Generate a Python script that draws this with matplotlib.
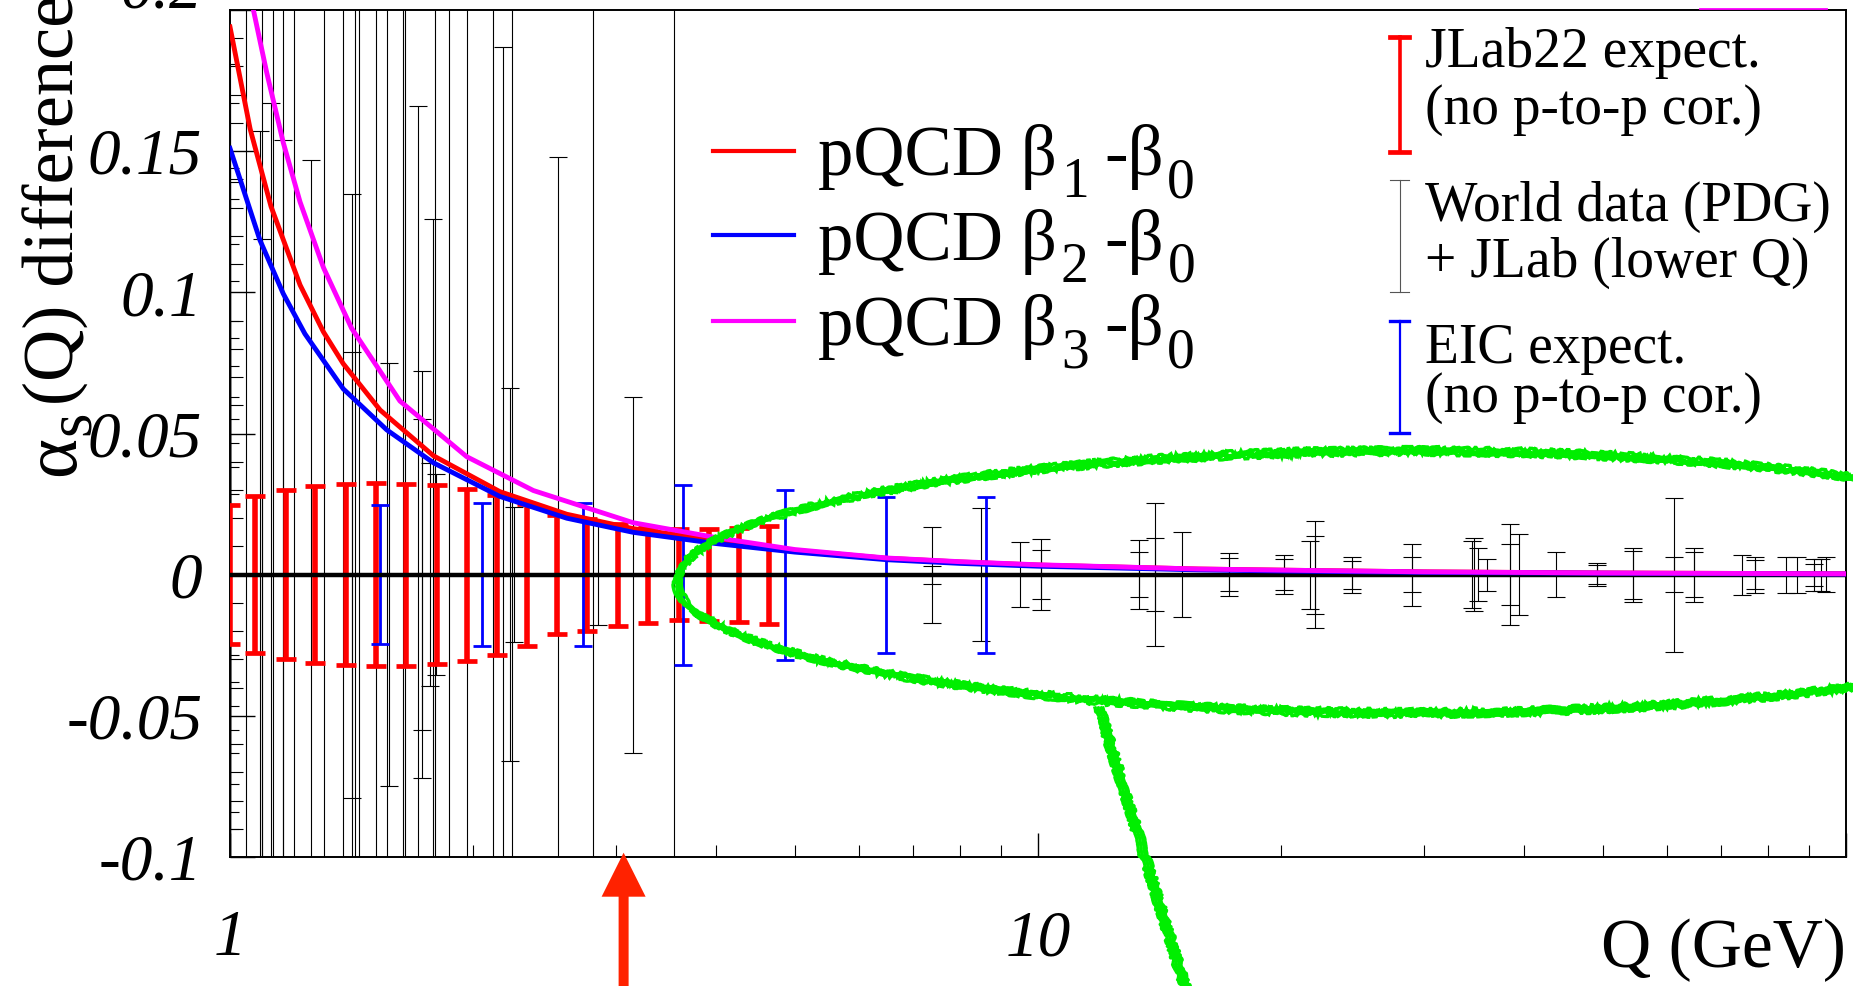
import numpy as np
import matplotlib
matplotlib.use("Agg")
import matplotlib.pyplot as plt
from matplotlib.lines import Line2D
from matplotlib.patches import Ellipse, Polygon
from matplotlib.ticker import LogLocator, MultipleLocator, NullFormatter

W, H = 1853, 986

# pQCD curves: alpha_s difference w.r.t. leading order
Q_B1 = [1.0, 1.059, 1.124, 1.221, 1.305, 1.381, 1.534, 1.786, 2.158, 2.611,
        3.155, 4.0, 5.0, 6.5, 8.0, 10, 15.8, 20, 30, 50, 100]
DIFF_B1 = [0.194, 0.1579, 0.1304, 0.1026, 0.0860, 0.0747, 0.0583, 0.0421, 0.0294, 0.0214,
           0.0163, 0.0121, 0.0086, 0.0058, 0.0045, 0.0034, 0.0020, 0.0016, 0.0010, 0.0006, 0.0003]

Q_B2 = [1.0, 1.089, 1.164, 1.238, 1.381, 1.563, 1.786, 2.158, 2.611, 3.155,
        4.0, 5.0, 6.5, 8.0, 10, 15.8, 20, 30, 50, 100]
DIFF_B2 = [0.151, 0.1185, 0.0995, 0.0853, 0.0658, 0.0513, 0.0396, 0.0277, 0.0200, 0.0150,
           0.0110, 0.0080, 0.0053, 0.0040, 0.0030, 0.0017, 0.0013, 0.0008, 0.0005, 0.0002]

Q_B3 = [1.05, 1.069, 1.110, 1.164, 1.221, 1.305, 1.414, 1.623, 1.963, 2.374,
        3.155, 4.0, 5.0, 6.5, 8.0, 10, 15.8, 20, 30, 50, 100]
DIFF_B3 = [0.212, 0.2, 0.178, 0.153, 0.132, 0.1088, 0.0873, 0.0615, 0.0418, 0.0298,
           0.0184, 0.0131, 0.0089, 0.0059, 0.0046, 0.0035, 0.0020, 0.0016, 0.0010, 0.0006, 0.0003]

# JLab22 expected uncertainties (centred on zero)
JLAB_Q = [1.0, 1.074, 1.173, 1.274, 1.390, 1.516, 1.651, 1.802, 1.963, 2.138,
          2.333, 2.541, 2.768, 3.022, 3.292, 3.596, 3.918, 4.27, 4.65]
JLAB_ERR = [0.0245, 0.0278, 0.030, 0.0314, 0.032, 0.0325, 0.0322, 0.0316, 0.0305, 0.0283,
            0.0251, 0.021, 0.0198, 0.0181, 0.017, 0.0162, 0.0163, 0.0166, 0.0173]

# EIC expected uncertainties
EIC_Q = [1.533, 2.048, 2.736, 3.64, 4.86, 6.49, 8.63]
EIC_ERR = [0.0246, 0.0253, 0.0254, 0.0319, 0.0301, 0.0276, 0.0276]

# World data (PDG) + JLab, shown as uncertainty around zero
WORLD_Q = [1.0] * 15 + [
    1.0466, 1.089, 1.094, 1.094, 1.124, 1.129, 1.164, 1.164, 1.200, 1.259,
    1.308, 1.381, 1.414, 1.414, 1.428, 1.446, 1.518, 1.563, 1.575, 1.638,
    1.645, 1.707, 1.727, 1.73, 1.77, 1.785, 1.794, 1.797, 1.868, 1.963,
    2.113, 2.175, 2.221, 2.236, 2.244, 2.548, 2.81, 2.857, 3.155, 3.545,
    7.39, 7.39, 8.50, 9.50, 10.09, 10.09, 13.32, 13.32, 13.97, 13.97,
    15.08, 17.23, 17.23, 20.14, 20.14, 21.7, 22.0, 22.0, 24.5, 24.5,
    29.0, 29.0, 34.4, 34.6, 35.0, 35.9, 38.4, 38.4, 39.4, 43.8,
    49.2, 49.2, 54.5, 54.5, 61.3, 61.3, 64.8, 64.8, 74.3, 77.2,
    77.2, 84.3, 87.0, 91.4, 91.4, 93.0, 94.4]
WORLD_ERR = [0.181, 0.167, 0.144, 0.139, 0.133, 0.117, 0.104, 0.090, 0.084, 0.074,
             0.063, 0.055, 0.0465, 0.038, 0.0284] + [
    0.3, 0.157, 0.3, 0.119, 0.167, 0.3, 0.154, 0.3, 0.3, 0.147,
    0.3, 0.3, 0.135, 0.079, 0.3, 0.3, 0.3, 0.3, 0.075, 0.3,
    0.3, 0.166, 0.072, 0.055, 0.0395, 0.126, 0.3, 0.0356, 0.3, 0.3,
    0.3, 0.187, 0.066, 0.3, 0.024, 0.148, 0.3, 0.018, 0.063, 0.3,
    0.017, 0.0032, 0.0236, 0.0116, 0.0125, 0.0087, 0.0123, 0.008, 0.0253, 0.0129,
    0.015, 0.0077, 0.0058, 0.0069, 0.0055, 0.012, 0.019, 0.0138, 0.0064, 0.0049,
    0.011, 0.0061, 0.0118, 0.0129, 0.0095, 0.0057, 0.018, 0.0108, 0.0143, 0.0079,
    0.0041, 0.0033, 0.0096, 0.0085, 0.0273, 0.0063, 0.0096, 0.0079, 0.0071, 0.0064,
    0.0052, 0.0064, 0.0064, 0.0057, 0.0039, 0.0057, 0.0062]

Y_TICKS = [-0.1, -0.05, 0, 0.05, 0.1, 0.15, 0.2]
Y_TICK_LABELS = ["-0.1", "-0.05", "0", "0.05", "0.1", "0.15", ""]
X_TICKS = [1, 10, 100]
X_TICK_LABELS = ["1", "10", ""]

ARROW_Q = 3.07

plt.rcParams["font.family"] = ["Liberation Serif", "DejaVu Serif"]


def P(x, y):
    """pixel position (from top-left) -> figure fraction"""
    return x / W, 1 - y / H


def chain_text(x, y, parts, vertical=False):
    """Draw text pieces one after another; parts = (text, size, baseline drop px, gap px)."""
    renderer = fig.canvas.get_renderer()
    pos = 0.0
    for s, size, drop, gap in parts:
        pos += gap
        if vertical:
            t = fig.text(*P(x + drop, y - pos), s, fontsize=size, rotation=90,
                         rotation_mode="anchor", ha="left", va="baseline")
            pos += t.get_window_extent(renderer).height
        else:
            t = fig.text(*P(x + pos, y + drop), s, fontsize=size, ha="left", va="baseline")
            pos += t.get_window_extent(renderer).width


fig = plt.figure(figsize=(W / 100, H / 100), dpi=100)
ax = fig.add_axes([230 / W, 1 - 857 / H, 1616 / W, 847 / H])

ax.errorbar(WORLD_Q, np.zeros(len(WORLD_Q)), yerr=WORLD_ERR, fmt="none",
            ecolor="black", elinewidth=0.8, capsize=6.5, capthick=0.8, zorder=2)
ax.errorbar(JLAB_Q, np.zeros(len(JLAB_Q)), yerr=JLAB_ERR, fmt="none",
            ecolor="#ff0000", elinewidth=4.0, capsize=7.0, capthick=3.4, zorder=3)
ax.errorbar(EIC_Q, np.zeros(len(EIC_Q)), yerr=EIC_ERR, fmt="none",
            ecolor="#0000ff", elinewidth=2.0, capsize=6.5, capthick=2.0, zorder=3)
ax.axhline(0, color="black", lw=3.2, zorder=4)

ax.plot(Q_B1, DIFF_B1, color="#ff0000", lw=3.5, zorder=5)
ax.plot(Q_B2, DIFF_B2, color="#0000ff", lw=3.5, zorder=5)
ax.plot(Q_B3, DIFF_B3, color="#ff00ff", lw=3.5, zorder=6)

ax.set_xscale("log")
ax.set_xlim(1, 100)
ax.set_ylim(-0.1, 0.2)
ax.set_xticks(X_TICKS, labels=X_TICK_LABELS)
ax.xaxis.set_minor_locator(LogLocator(base=10, subs=np.arange(2, 10)))
ax.xaxis.set_minor_formatter(NullFormatter())
ax.set_yticks(Y_TICKS, labels=Y_TICK_LABELS)
ax.yaxis.set_minor_locator(MultipleLocator(0.01))

ax.tick_params(which="both", direction="in", top=False, right=False)
ax.tick_params(axis="y", which="major", length=18, width=1.0, labelsize=47, pad=20)
ax.tick_params(axis="y", which="minor", length=9.4, width=0.8)
ax.tick_params(axis="x", which="major", length=17, width=1.0, labelsize=47, pad=38)
ax.tick_params(axis="x", which="minor", length=8.6, width=0.8)
for lbl in ax.get_xticklabels() + ax.get_yticklabels():
    lbl.set_style("italic")
for sp in ax.spines.values():
    sp.set_linewidth(1.4)

# top label only partly inside the picture
ax.annotate("0.2", xy=(0, 0.2), xycoords=("axes fraction", "data"),
            xytext=(-20, 18), textcoords="offset points", ha="right",
            va="center_baseline", fontsize=47, style="italic")

chain_text(74, 476, [("α", 55, 0, 0), ("s", 45, 15, 1), ("(Q) difference", 52, 0, 6)],
           vertical=True)
fig.text(*P(1846, 967), "Q (GeV)", ha="right", va="baseline", fontsize=50)

# curve legend
for y, color, sub in [(150.7, "#ff0000", "1"), (235.3, "#0000ff", "2"), (320.7, "#ff00ff", "3")]:
    x0, y0 = P(713, y)
    x1, _ = P(794, y)
    fig.add_artist(Line2D([x0, x1], [y0, y0], color=color, lw=3.0))
    chain_text(818, y + 24.5, [("pQCD β", 51, 0, 0), (sub, 40, 22, 4),
                               ("-β", 51, 0, 16), ("0", 40, 22, 3)])

# error bar legend
for y_top, y_bot, color, lw in [(37.3, 151.7, "#ff0000", 2.6),
                               (180, 291.7, "#555555", 0.8),
                               (320.7, 433.3, "#0000ff", 1.6)]:
    xa, ya = P(1399.7, y_top)
    _, yb = P(1399.7, y_bot)
    fig.add_artist(Line2D([xa, xa], [ya, yb], color=color, lw=lw))
    for yc in (ya, yb):
        fig.add_artist(Line2D([xa - 9.3 / W, xa + 9.3 / W], [yc, yc], color=color,
                              lw=lw + (0.8 if lw > 1 else 0)))

for y, txt in [(66.7, "JLab22 expect."), (124, "(no p-to-p cor.)"),
               (220.7, "World data (PDG)"), (276.7, "+ JLab (lower Q)"),
               (362.7, "EIC expect."), (411.7, "(no p-to-p cor.)")]:
    fig.text(*P(1424.7, y), txt, va="baseline", fontsize=40)

x0, y0 = P(1700, 8.5)
x1, _ = P(1827, 8.5)
fig.add_artist(Line2D([x0, x1], [y0, y0], color="#ff00ff", lw=1.3))

# hand-drawn green marking of the high-Q region
green = "#00ee00"
for dw, dh in [(-6, -6), (-2, -2), (2, 2), (6, 6), (3, -3)]:
    ell = Ellipse(P(1412, 582), width=(2 * 735 + dw) / W, height=(2 * 131 + dh) / H,
                  transform=fig.transFigure, fill=False, edgecolor=green, lw=2.4)
    ell.set_sketch_params(scale=1.5, length=18, randomness=25)
    fig.add_artist(ell)
for dx in (-4, -1, 2, 4):
    xs, ys = zip(P(1099 + dx, 708), P(1186 + dx, 990))
    ln = Line2D(xs, ys, color=green, lw=2.4)
    ln.set_sketch_params(scale=1.5, length=18, randomness=25)
    fig.add_artist(ln)

# arrow pointing at the Q region
tip_x = ax.transData.transform((ARROW_Q, -0.1))[0]
arrow_px = [(tip_x - 5, 990), (tip_x - 5, 896.7), (tip_x - 22, 896.7), (tip_x, 852.7),
            (tip_x + 22, 896.7), (tip_x + 5, 896.7), (tip_x + 5, 990)]
fig.add_artist(Polygon([P(x, y) for x, y in arrow_px], closed=True,
                       transform=fig.transFigure, facecolor="#ff2200", edgecolor="none"))

fig.savefig("out.png", dpi=100)
